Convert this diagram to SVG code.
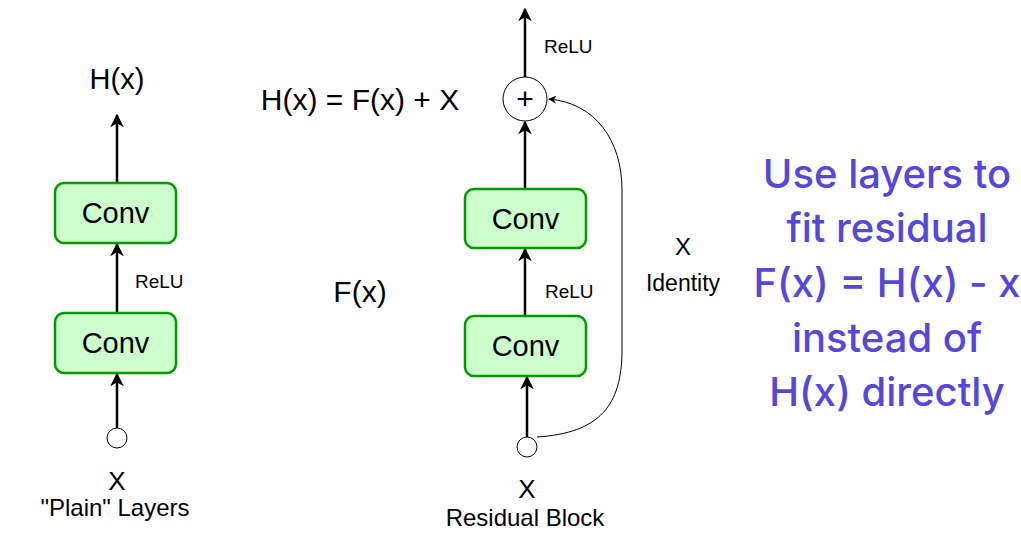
<svg xmlns="http://www.w3.org/2000/svg" width="1021" height="534" viewBox="0 0 1021 534">
<defs>
<style>
.conv{fill:#ccffcc;stroke:#009900;stroke-width:2.5}
.lbl{font-family:"Liberation Sans",Arial,sans-serif;fill:#000}
.wire{stroke:#000;stroke-width:2.5;fill:none}
.thin{stroke:#000;stroke-width:1;fill:none}
.dot{fill:#fff;stroke:#000;stroke-width:1}
.note{font-family:Inter,"Noto Sans",sans-serif;font-size:40px;font-weight:500;fill:#5548d9;text-anchor:middle}
</style>
<marker id="ah" viewBox="0 0 10 10" refX="9" refY="5" markerWidth="5.5" markerHeight="5.5" orient="auto" markerUnits="strokeWidth">
<path d="M0,0 L10,5 L0,10 L3,5 Z" fill="#000"/>
</marker>
<marker id="ahs" viewBox="0 0 10 10" refX="9" refY="5" markerWidth="8" markerHeight="8" orient="auto" markerUnits="strokeWidth">
<path d="M0,0 L10,5 L0,10 L3,5 Z" fill="#000"/>
</marker>
</defs>
<g id="connectors">
<line class="wire" x1="117" y1="183" x2="117" y2="115" marker-end="url(#ah)"/>
<line class="wire" x1="117" y1="313" x2="117" y2="244" marker-end="url(#ah)"/>
<line class="wire" x1="117" y1="428" x2="117" y2="374" marker-end="url(#ah)"/>
<line class="wire" x1="525" y1="77" x2="525" y2="9" marker-end="url(#ah)"/>
<line class="wire" x1="525" y1="189" x2="525" y2="122" marker-end="url(#ah)"/>
<line class="wire" x1="525" y1="316" x2="525" y2="249" marker-end="url(#ah)"/>
<line class="wire" x1="527" y1="437" x2="527" y2="377" marker-end="url(#ah)"/>
<path class="thin" d="M537,437 C600,433 622,405 622,350 L622,190 C622,140 595,103 549,99" marker-end="url(#ahs)"/>
</g>
<g id="plain-conv2"><rect class="conv" x="55" y="183" width="121" height="60" rx="9"/><text class="lbl" x="115.5" y="223" font-size="29" text-anchor="middle">Conv</text></g>
<g id="plain-conv1"><rect class="conv" x="55" y="313" width="121" height="60" rx="9"/><text class="lbl" x="115.5" y="353" font-size="29" text-anchor="middle">Conv</text></g>
<g id="plain-input"><circle class="dot" cx="117" cy="438" r="10"/></g>
<g id="plain-labels">
<text class="lbl" x="117" y="89" font-size="29" text-anchor="middle">H(x)</text>
<text class="lbl" x="135" y="288" font-size="19">ReLU</text>
<text class="lbl" x="117" y="490" font-size="26" text-anchor="middle">X</text>
<text class="lbl" x="115" y="516" font-size="24" text-anchor="middle">"Plain" Layers</text>
</g>
<g id="res-plus"><circle class="dot" cx="525" cy="99" r="22"/><text class="lbl" x="525" y="109" font-size="30" text-anchor="middle">+</text></g>
<g id="res-conv2"><rect class="conv" x="465" y="189" width="121" height="59" rx="9"/><text class="lbl" x="525.5" y="229" font-size="29" text-anchor="middle">Conv</text></g>
<g id="res-conv1"><rect class="conv" x="465" y="316" width="121" height="60" rx="9"/><text class="lbl" x="525.5" y="356" font-size="29" text-anchor="middle">Conv</text></g>
<g id="res-input"><circle class="dot" cx="527" cy="447" r="10"/></g>
<g id="res-labels">
<text class="lbl" x="544" y="53" font-size="19">ReLU</text>
<text class="lbl" x="545" y="298" font-size="19">ReLU</text>
<text class="lbl" x="360" y="110" font-size="30" text-anchor="middle">H(x) = F(x) + X</text>
<text class="lbl" x="360" y="302" font-size="30" text-anchor="middle">F(x)</text>
<text class="lbl" x="527" y="498" font-size="26" text-anchor="middle">X</text>
<text class="lbl" x="525" y="526" font-size="24" text-anchor="middle">Residual Block</text>
<text class="lbl" x="683" y="255" font-size="24" text-anchor="middle">X</text>
<text class="lbl" x="683" y="291" font-size="23" text-anchor="middle">Identity</text>
</g>
<g id="note">
<text class="note" x="887" y="188">Use layers to</text>
<text class="note" x="887" y="242">fit residual</text>
<text class="note" x="887" y="297">F(x) = H(x) - x</text>
<text class="note" x="887" y="352">instead of</text>
<text class="note" x="887" y="406">H(x) directly</text>
</g>
</svg>
